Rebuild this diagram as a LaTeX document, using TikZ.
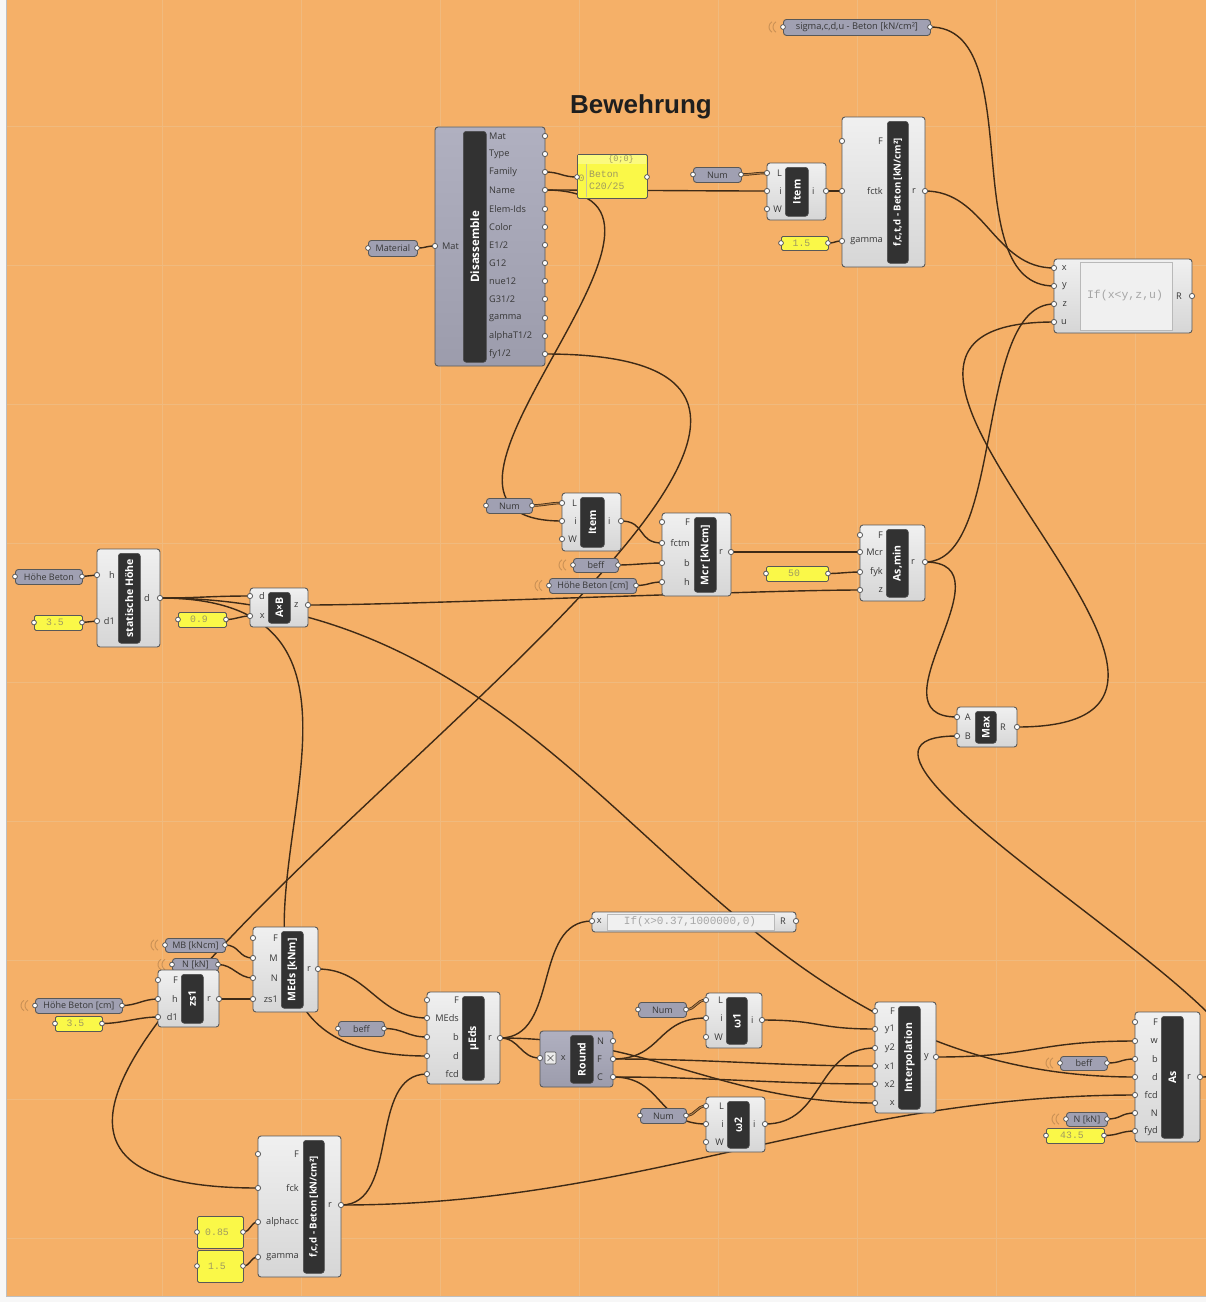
\documentclass[tikz,border=0pt]{standalone}
\usepackage{fontspec}
\setmainfont{Open Sans}
\newfontfamily\headfont{Liberation Sans}
\newfontfamily\codefont{Liberation Mono}
\pgfdeclarelayer{canvas}
\pgfdeclarelayer{wirelayer}
\pgfsetlayers{canvas,wirelayer,main}

\definecolor{bg}{RGB}{245,176,104}
\definecolor{gridc}{RGB}{240,186,126}
\definecolor{wirec}{RGB}{62,42,22}
\definecolor{compA}{RGB}{240,240,240}
\definecolor{compB}{RGB}{214,214,214}
\definecolor{blueA}{RGB}{176,176,192}
\definecolor{blueB}{RGB}{156,156,172}
\definecolor{compedge}{RGB}{88,88,88}
\definecolor{barc}{RGB}{50,50,50}
\definecolor{paramc}{RGB}{160,160,178}
\definecolor{panelc}{RGB}{250,248,72}
\definecolor{paneltxt}{RGB}{160,155,95}
\definecolor{labc}{RGB}{55,55,55}

\tikzset{
  compbody/.style={draw=compedge, line width=0.9pt, rounded corners=3pt,
    top color=compA, bottom color=compB, inner sep=0pt, outer sep=0pt},
  bluebody/.style={compbody, top color=blueA, bottom color=blueB},
  titlebar/.style={fill=barc, draw=black!70, line width=0.6pt, rounded corners=3pt,
    inner sep=0pt, text=white, font=\fontsize{10.5}{11}\selectfont\bfseries},
  portlab/.style={inner sep=0pt, text=labc, font=\fontsize{9.2}{10}\selectfont},
  parambox/.style={draw=compedge, line width=0.9pt, rounded corners=3pt, fill=paramc,
    inner sep=0pt, text=labc, font=\fontsize{9}{10}\selectfont},
  valbox/.style={draw=compedge, line width=0.8pt, rounded corners=1.5pt, fill=panelc, inner sep=0pt},
  valtext/.style={inner sep=0pt, text=paneltxt, font=\codefont\fontsize{9.8}{10}\selectfont},
  codetext/.style={inner sep=0pt, text=gray!70, font=\codefont\fontsize{11.5}{12}\selectfont},
  nub/.style={fill=white, draw=compedge, line width=0.8pt},
  wire/.style={draw=wirec, line width=1.4pt},
  listwire/.style={draw=wirec, line width=0.7pt, double=bg!60!wirec, double distance=1.1pt},
  wlmark/.style={draw=bg!82!black, line width=0.9pt},
}

% component body with its dark title bar
\newcommand\ghBox[9]{%
  \node[#1, minimum width=#5-#3, minimum height=#6-#4, anchor=north west] (#2) at (#3,#4) {};
  \node[titlebar, minimum width=#8-#7, minimum height=#6-#4-8, anchor=north west] (#2-t) at (#7,#4+4) {\rotatebox{90}{#9}};}
% input and output grips
\newcommand\ghIn[5]{\coordinate (#1) at (#2,#3); \draw[nub] (#1) circle[radius=2.6pt];
  \node[portlab, anchor=east] at (#4,#3) {#5};}
\newcommand\ghOut[5]{\coordinate (#1) at (#2,#3); \draw[nub] (#1) circle[radius=2.6pt];
  \node[portlab, anchor=west] at (#4,#3) {#5};}
% parameter capsule
\newcommand\ghParam[6]{%
  \node[parambox, minimum width=#4-#2, minimum height=#5-#3, anchor=north west] (#1) at (#2,#3) {#6};
  \coordinate (#1-i) at (#2,{(#3+#5)/2}); \coordinate (#1-o) at (#4,{(#3+#5)/2});
  \draw[nub] (#1-i) circle[radius=2.4pt]; \draw[nub] (#1-o) circle[radius=2.4pt];}
% faint marks for a parameter fed by a hidden wire
\newcommand\ghHidden[1]{%
  \draw[wlmark] (#1-i) ++(-7,5.2) arc[start angle=120, end angle=240, radius=6];
  \draw[wlmark] (#1-i) ++(-11,5.2) arc[start angle=120, end angle=240, radius=6];}
% yellow value panel
\newcommand\ghVal[6]{%
  \node[valbox, minimum width=#4-#2, minimum height=#5-#3, anchor=north west] (#1) at (#2,#3) {};
  \node[valtext] at ({(#2+#4)/2-3},{(#3+#5)/2}) {#6};
  \coordinate (#1-i) at (#2,{(#3+#5)/2}); \coordinate (#1-o) at (#4,{(#3+#5)/2});
  \draw[nub] (#1-i) circle[radius=2.4pt]; \draw[nub] (#1-o) circle[radius=2.4pt];}
% wire between two grips
\newcommand\gw[4][wire]{\draw[#1] (#2) .. controls +(#4,0) and +(-#4,0) .. (#3);}

\begin{document}
\begin{tikzpicture}[x=1pt, y=-1pt]
\useasboundingbox (0,0) rectangle (1206,1302);

\begin{pgfonlayer}{canvas}
  \fill[bg] (0,0) rectangle (1206,1302);
  \foreach \gx in {162,301,440,579,718,857,996,1135}
    \draw[gridc, line width=0.7pt] (\gx,0) -- (\gx,1296);
  \foreach \gy in {126,265,404,543,682,821,960,1099,1238}
    \draw[gridc, line width=0.7pt] (6,\gy) -- (1206,\gy);
  \fill[white!94!gray] (0,0) rectangle (6,1302);
  \fill[white!94!gray] (0,1296) rectangle (1206,1302);
  \draw[gray!50, line width=0.6pt] (6.3,0) -- (6.3,1296) -- (1206,1296);
\end{pgfonlayer}

\node[font=\headfont\bfseries\fontsize{26}{28}\selectfont, text=black!88] (title) at (641,107) {Bewehrung};

% ---------- material input ----------
\ghParam{sigma}{783}{19}{930}{35}{\fontsize{9.3}{10}\selectfont sigma,c,d,u - Beton [kN/cm²]}
\ghHidden{sigma}
\ghParam{material}{368}{240}{417}{256}{Material}

\ghBox{bluebody}{dis}{435}{127}{545}{366}{463}{486}{\fontsize{11.5}{12}\selectfont Disassemble}
\ghIn{dis-mat}{435}{246}{459}{Mat}
\ghOut{dis-mato}{545}{136}{489}{Mat}
\ghOut{dis-type}{545}{154}{489}{Type}
\ghOut{dis-fam}{545}{172}{489}{Family}
\ghOut{dis-name}{545}{190}{489}{Name}
\ghOut{dis-elem}{545}{209}{489}{Elem-Ids}
\ghOut{dis-col}{545}{227}{489}{Color}
\ghOut{dis-e}{545}{245}{489}{E1/2}
\ghOut{dis-g12}{545}{263}{489}{G12}
\ghOut{dis-nue}{545}{281}{489}{nue12}
\ghOut{dis-g31}{545}{299}{489}{G31/2}
\ghOut{dis-gam}{545}{318}{489}{gamma}
\ghOut{dis-alpha}{545}{336}{489}{alphaT1/2}
\ghOut{dis-fy}{545}{354}{489}{fy1/2}

% text panel with the material name
\node[valbox, minimum width=70, minimum height=44, anchor=north west] (pbeton) at (577,154) {};
\fill[panelc!70!white] (578,155) rectangle (646,164);
\draw[paneltxt!60, line width=0.5pt] (586,164) -- (586,197);
\node[valtext, font=\codefont\fontsize{8.5}{9}\selectfont] at (621,159.5) {\{0;0\}};
\node[valtext] at (581.5,178) {0};
\node[valtext, anchor=west] at (589,174) {Beton};
\node[valtext, anchor=west] at (589,186) {C20/25};
\coordinate (pbeton-i) at (577,177); \coordinate (pbeton-o) at (647,177);
\draw[nub] (pbeton-i) circle[radius=2.4pt]; \draw[nub] (pbeton-o) circle[radius=2.4pt];

% ---------- tensile strength ----------
\ghParam{num1}{693}{167}{741}{182}{Num}
\ghBox{compbody}{item1}{767}{163}{826}{220}{785}{808}{Item}
\ghIn{item1-L}{767}{173}{782}{L}
\ghIn{item1-i}{767}{191}{782}{i}
\ghIn{item1-W}{767}{209}{782}{W}
\ghOut{item1-o}{826}{191}{812}{i}

\ghVal{p15a}{781}{236}{828}{250}{1.5}
\ghBox{compbody}{fctd}{842}{117}{925}{267}{887}{908}{\fontsize{9.6}{10}\selectfont f,c,t,d - Beton [kN/cm²]}
\ghIn{fctd-F}{842}{141}{883}{F}
\ghIn{fctd-fctk}{842}{191}{883}{fctk}
\ghIn{fctd-gam}{842}{241}{883}{gamma}
\ghOut{fctd-r}{925}{191}{912}{r}

% ---------- decision ----------
\node[compbody, minimum width=138, minimum height=74, anchor=north west] (if1) at (1054,259) {};
\draw[fill=compA, draw=gray!55, line width=0.6pt] (1080,262) rectangle (1172,330);
\node[codetext] at (1125,296) {If(x<y,z,u)};
\ghIn{if1-x}{1054}{268}{1067}{x}
\ghIn{if1-y}{1054}{286}{1067}{y}
\ghIn{if1-z}{1054}{304}{1067}{z}
\ghIn{if1-u}{1054}{322}{1067}{u}
\ghOut{if1-r}{1192}{296}{1176}{R}

% ---------- cracking moment ----------
\ghParam{num2}{486}{498}{532}{513}{Num}
\ghBox{compbody}{item2}{562}{493}{621}{551}{580}{604}{Item}
\ghIn{item2-L}{562}{503}{577}{L}
\ghIn{item2-i}{562}{521}{577}{i}
\ghIn{item2-W}{562}{539}{577}{W}
\ghOut{item2-o}{621}{521}{608}{i}

\ghParam{beff1}{573}{558}{618}{572}{beff}
\ghHidden{beff1}
\ghParam{hbcm1}{549}{578}{636}{593}{Höhe Beton [cm]}
\ghHidden{hbcm1}
\ghBox{compbody}{mcr}{662}{513}{731}{596}{694}{716}{Mcr [kNcm]}
\ghIn{mcr-F}{662}{522}{690}{F}
\ghIn{mcr-fctm}{662}{543}{690}{fctm}
\ghIn{mcr-b}{662}{563}{690}{b}
\ghIn{mcr-h}{662}{582}{690}{h}
\ghOut{mcr-r}{731}{552}{719}{r}

\ghVal{p50}{766}{566}{828}{581}{50}
\ghBox{compbody}{asmin}{860}{525}{925}{601}{886}{908}{As,min}
\ghIn{asmin-F}{860}{535}{883}{F}
\ghIn{asmin-mcr}{860}{552}{883}{Mcr}
\ghIn{asmin-fyk}{860}{572}{883}{fyk}
\ghIn{asmin-z}{860}{590}{883}{z}
\ghOut{asmin-r}{925}{562}{911}{r}

\ghBox{compbody}{max}{957}{707}{1017}{747}{975}{996}{Max}
\ghIn{max-a}{957}{717}{971}{A}
\ghIn{max-b}{957}{736}{971}{B}
\ghOut{max-r}{1017}{727}{1000}{R}

% ---------- effective depth ----------
\ghParam{hb}{15}{569}{82}{584}{Höhe Beton}
\ghVal{p35a}{34}{615}{82}{630}{3.5}
\ghBox{compbody}{sh}{97}{549}{160}{647}{118}{140}{statische Höhe}
\ghIn{sh-h}{97}{575}{115}{h}
\ghIn{sh-d1}{97}{621}{115}{d1}
\ghOut{sh-d}{160}{598}{144}{d}

\ghVal{p09}{178}{612}{226}{627}{0.9}
\ghBox{compbody}{axb}{250}{588}{308}{627}{268}{290}{A×B}
\ghIn{axb-d}{250}{596}{265}{d}
\ghIn{axb-x}{250}{616}{265}{x}
\ghOut{axb-z}{308}{605}{294}{z}

% ---------- design moment ----------
\ghParam{mb}{165}{938}{225}{952}{MB [kNcm]}
\ghHidden{mb}
\ghParam{nkn1}{172}{958}{218}{971}{N [kN]}
\ghHidden{nkn1}
\ghParam{hbcm2}{35}{998}{122}{1013}{Höhe Beton [cm]}
\ghHidden{hbcm2}
\ghVal{p35b}{55}{1016}{102}{1031}{3.5}
\ghBox{compbody}{zs}{158}{970}{219}{1027}{181}{203}{zs1}
\ghIn{zs-F}{158}{980}{178}{F}
\ghIn{zs-h}{158}{999}{178}{h}
\ghIn{zs-d1}{158}{1017}{178}{d1}
\ghOut{zs-r}{219}{999}{207}{r}

\ghBox{compbody}{meds}{253}{927}{318}{1012}{281}{303}{MEds [kNm]}
\ghIn{meds-F}{253}{938}{278}{F}
\ghIn{meds-m}{253}{958}{278}{M}
\ghIn{meds-n}{253}{978}{278}{N}
\ghIn{meds-zs}{253}{999}{278}{zs1}
\ghOut{meds-r}{318}{969}{307}{r}

\ghParam{beff2}{338}{1021}{384}{1036}{beff}
\ghBox{compbody}{mueds}{427}{992}{500}{1084}{462}{484}{μEds}
\ghIn{mueds-F}{427}{1000}{459}{F}
\ghIn{mueds-meds}{427}{1018}{459}{MEds}
\ghIn{mueds-b}{427}{1037}{459}{b}
\ghIn{mueds-d}{427}{1056}{459}{d}
\ghIn{mueds-fcd}{427}{1074}{459}{fcd}
\ghOut{mueds-r}{500}{1038}{488}{r}

% ---------- interpolation of omega ----------
\node[compbody, minimum width=204, minimum height=20, anchor=north west] (if2) at (592,912) {};
\draw[fill=compA, draw=gray!55, line width=0.6pt] (607,914) rectangle (774,930);
\node[codetext, font=\codefont\fontsize{11}{12}\selectfont] at (690,922) {If(x>0.37,1000000,0)};
\ghIn{if2-x}{592}{921}{602}{x}
\ghOut{if2-r}{796}{921}{780}{R}

\ghBox{bluebody}{round}{540}{1031}{613}{1087}{570}{593}{Round}
\draw[fill=white!85!gray, draw=compedge, line width=0.6pt, rounded corners=1pt] (545,1052) rectangle (556,1064);
\draw[compedge, line width=0.6pt] (547.5,1055) -- (553.5,1061) (547.5,1061) -- (553.5,1055);
\ghIn{round-x}{540}{1058}{566}{x}
\ghOut{round-n}{613}{1041}{597}{N}
\ghOut{round-f}{613}{1059}{597}{F}
\ghOut{round-c}{613}{1077}{597}{C}

\ghParam{num3}{638}{1002}{686}{1017}{Num}
\ghBox{compbody}{w1}{706}{993}{762}{1048}{726}{747}{ω1}
\ghIn{w1-L}{706}{1000}{723}{L}
\ghIn{w1-i}{706}{1018}{723}{i}
\ghIn{w1-W}{706}{1037}{723}{W}
\ghOut{w1-o}{762}{1020}{751}{i}

\ghParam{num4}{640}{1108}{686}{1123}{Num}
\ghBox{compbody}{w2}{706}{1097}{765}{1152}{727}{749}{ω2}
\ghIn{w2-L}{706}{1106}{724}{L}
\ghIn{w2-i}{706}{1124}{724}{i}
\ghIn{w2-W}{706}{1142}{724}{W}
\ghOut{w2-o}{765}{1124}{753}{i}

\ghBox{compbody}{interp}{875}{1002}{936}{1113}{898}{920}{Interpolation}
\ghIn{interp-F}{875}{1011}{895}{F}
\ghIn{interp-y1}{875}{1029}{895}{y1}
\ghIn{interp-y2}{875}{1048}{895}{y2}
\ghIn{interp-x1}{875}{1066}{895}{x1}
\ghIn{interp-x2}{875}{1084}{895}{x2}
\ghIn{interp-x}{875}{1103}{895}{x}
\ghOut{interp-y}{936}{1057}{924}{y}

% ---------- required reinforcement ----------
\ghParam{beff3}{1060}{1056}{1107}{1070}{beff}
\ghHidden{beff3}
\ghParam{nkn2}{1066}{1112}{1107}{1126}{N [kN]}
\ghHidden{nkn2}
\ghVal{p435}{1046}{1128}{1104}{1143}{43.5}
\ghBox{compbody}{as}{1135}{1012}{1200}{1142}{1161}{1183}{As}
\ghIn{as-F}{1135}{1022}{1158}{F}
\ghIn{as-w}{1135}{1041}{1158}{w}
\ghIn{as-b}{1135}{1059}{1158}{b}
\ghIn{as-d}{1135}{1077}{1158}{d}
\ghIn{as-fcd}{1135}{1095}{1158}{fcd}
\ghIn{as-n}{1135}{1113}{1158}{N}
\ghIn{as-fyd}{1135}{1131}{1158}{fyd}
\ghOut{as-r}{1200}{1077}{1187}{r}

% ---------- design compressive strength ----------
\ghVal{p085}{197}{1216}{243}{1248}{0.85}
\ghVal{p15b}{197}{1250}{243}{1282}{1.5}
\ghBox{compbody}{fcd}{258}{1136}{341}{1277}{303}{324}{\fontsize{9.6}{10}\selectfont f,c,d - Beton [kN/cm²]}
\ghIn{fcd-F}{258}{1154}{299}{F}
\ghIn{fcd-fck}{258}{1188}{299}{fck}
\ghIn{fcd-alpha}{258}{1222}{299}{alphacc}
\ghIn{fcd-gamma}{258}{1257}{299}{gamma}
\ghOut{fcd-r}{341}{1205}{328}{r}

% ---------- wires ----------
\begin{pgfonlayer}{wirelayer}
  \gw{material-o}{dis-mat}{10}
  \gw{dis-fam}{pbeton-i}{15}
  \gw{dis-name}{item1-i}{60}
  \gw[listwire]{num1-o}{item1-L}{12}
  \gw{item1-o}{fctd-fctk}{8}
  \gw{p15a-o}{fctd-gam}{8}
  \gw{fctd-r}{if1-x}{60}
  \gw{sigma-o}{if1-y}{100}
  \gw{asmin-r}{if1-z}{80}
  \gw{max-r}{if1-u}{300}
  \gw{asmin-r}{max-a}{90}
  \gw{as-r}{max-b}{200}
  \gw{dis-name}{item2-i}{200}
  \gw[listwire]{num2-o}{item2-L}{12}
  \gw{item2-o}{mcr-fctm}{25}
  \gw{beff1-o}{mcr-b}{15}
  \gw{hbcm1-o}{mcr-h}{12}
  \gw{mcr-r}{asmin-mcr}{50}
  \gw{p50-o}{asmin-fyk}{12}
  \gw{axb-z}{asmin-z}{100}
  \gw{hb-o}{sh-h}{8}
  \gw{p35a-o}{sh-d1}{8}
  \gw{sh-d}{axb-d}{40}
  \gw{p09-o}{axb-x}{10}
  \gw{sh-d}{mueds-d}{330}
  \gw{sh-d}{as-d}{450}
  \gw{dis-fy}{fcd-fck}{600}
  \gw{mb-o}{meds-m}{15}
  \gw{nkn1-o}{meds-n}{15}
  \gw{hbcm2-o}{zs-h}{15}
  \gw{p35b-o}{zs-d1}{20}
  \gw{zs-r}{meds-zs}{15}
  \gw{meds-r}{mueds-meds}{50}
  \gw{beff2-o}{mueds-b}{20}
  \gw{fcd-r}{mueds-fcd}{60}
  \gw{fcd-r}{as-fcd}{300}
  \gw{mueds-r}{if2-x}{60}
  \gw{mueds-r}{round-x}{20}
  \gw{mueds-r}{interp-x}{150}
  \gw{round-f}{w1-i}{50}
  \gw{round-f}{interp-x1}{100}
  \gw{round-c}{interp-x2}{100}
  \gw{round-c}{w2-i}{50}
  \gw[listwire]{num3-o}{w1-L}{10}
  \gw[listwire]{num4-o}{w2-L}{10}
  \gw{w1-o}{interp-y1}{60}
  \gw{w2-o}{interp-y2}{60}
  \gw{interp-y}{as-w}{100}
  \gw{beff3-o}{as-b}{15}
  \gw{nkn2-o}{as-n}{15}
  \gw{p435-o}{as-fyd}{15}
  \gw{p085-o}{fcd-alpha}{8}
  \gw{p15b-o}{fcd-gamma}{8}
\end{pgfonlayer}
\end{tikzpicture}
\end{document}
